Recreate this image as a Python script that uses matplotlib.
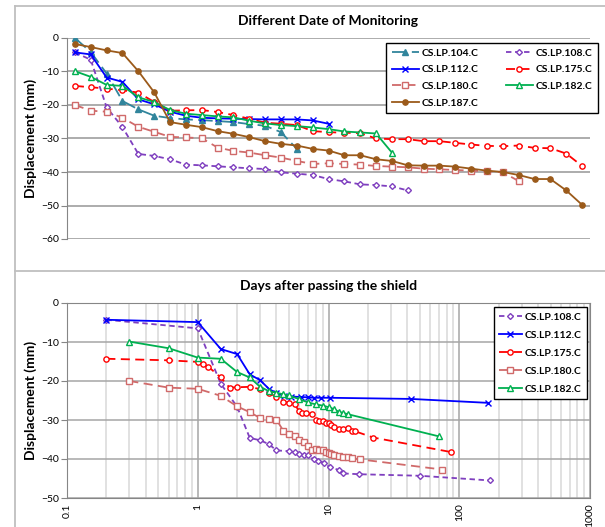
import matplotlib
matplotlib.use('Agg')
import matplotlib.pyplot as plt
from matplotlib.lines import Line2D
from matplotlib.ticker import LogLocator, FixedLocator, NullFormatter

plt.rcParams['font.family'] = ['Lato', 'DejaVu Sans']

# displacement readings (mm), one per monitoring date
d104 = [0.0, -4.2, -10.6, -18.8, -21.3, -23.2, -23.9, -24.3, -24.5, -24.8, -25.1, -25.7, -26.2, -28.1, -33.1]
d108 = [-4.3, -6.5, -20.7, -26.6, -34.6, -35.2, -36.2, -37.8, -38.0, -38.3, -38.6, -38.9, -39.1, -40.1,
        -40.5, -40.9, -42.1, -42.8, -43.7, -43.9, -44.3, -45.5]
d112 = [-4.3, -4.9, -11.8, -13.1, -18.3, -19.8, -22.0, -23.2, -23.8, -24.0, -24.1, -24.2, -24.3, -24.3,
        -24.3, -24.6, -25.6]
d175 = [-14.3, -14.7, -15.1, -15.6, -16.3, -19.1, -21.7, -21.6, -21.5, -22.1, -23.0, -24.1, -25.3, -25.6,
        -26.0, -27.8, -28.1, -28.3, -28.4, -30.0, -30.2, -30.2, -30.8, -30.8, -31.3, -31.8, -32.2, -32.3,
        -32.1, -32.8, -32.9, -34.5, -38.2]
d180 = [-20.0, -21.7, -22.0, -23.8, -26.5, -28.0, -29.5, -29.7, -29.9, -32.7, -33.7, -34.2, -35.0, -35.7,
        -36.7, -37.6, -37.4, -37.6, -37.8, -38.2, -38.4, -38.6, -39.0, -39.2, -39.4, -39.6, -39.8, -40.1, -42.7]
d182 = [-9.9, -11.6, -14.0, -14.3, -17.7, -19.1, -21.5, -22.6, -23.0, -23.4, -23.7, -24.7, -25.5, -26.0,
        -26.3, -26.7, -27.2, -27.9, -28.2, -28.5, -34.2]
d187 = [-1.8, -2.7, -3.7, -4.5, -9.9, -16.2, -25.1, -25.9, -26.6, -27.8, -28.6, -29.6, -30.8, -31.6,
        -32.1, -33.1, -33.6, -35.0, -35.0, -36.2, -36.7, -38.0, -38.1, -38.1, -38.4, -39.0, -39.6, -40.0,
        -40.9, -42.1, -42.1, -45.5, -49.8]

# days after the shield passed each point
t108 = [0.2, 1.0, 1.5, 2.0, 2.5, 3.0, 3.5, 4.0, 5.0, 5.5, 6.0, 6.5, 7.0, 7.7, 8.3, 9.2, 10.2, 12, 13, 17, 50, 172]
t112 = [0.2, 1.0, 1.5, 2.0, 2.5, 3.0, 3.5, 4.0, 4.6, 5.2, 6.2, 7.0, 7.8, 8.7, 10.2, 43, 165]
t175 = [0.2, 0.6, 1.0, 1.1, 1.2, 1.5, 1.75, 2.0, 2.5, 3.0, 3.5, 4.0, 4.5, 5.0, 5.5, 6.0, 6.3, 6.7, 7.5,
        8.0, 8.5, 9.0, 9.5, 10.0, 10.5, 11.0, 12.0, 13.0, 14.0, 15.0, 16.0, 22, 86]
t180 = [0.3, 0.6, 1.0, 1.5, 2.0, 2.5, 3.0, 3.5, 4.0, 4.5, 5.0, 5.5, 6.0, 6.5, 7.0, 7.5, 8.0, 8.5, 9.0,
        9.5, 10.0, 10.5, 11.0, 12.0, 13.0, 14.0, 15.0, 17.5, 74]
t182 = [0.3, 0.6, 1.0, 1.5, 2.0, 2.5, 3.0, 3.5, 4.0, 4.5, 5.0, 6.0, 7.0, 8.0, 9.0, 10.0, 11.0, 12.0,
        13.0, 14.0, 70]

n_dates = 33

styles = {
    '104': dict(color='#31859C', marker='^', mfc='#31859C', dashes=(8, 3)),
    '108': dict(color='#7F3FBF', marker='D', mfc='white', dashes=(3, 2), ms=3.0),
    '112': dict(color='#0000FF', marker='x', mfc='none', dashes=None),
    '175': dict(color='#FF0000', marker='o', mfc='white', dashes=(5, 3)),
    '180': dict(color='#D06A6A', marker='s', mfc='white', dashes=(5, 3)),
    '182': dict(color='#00B050', marker='^', mfc='white', dashes=None),
    '187': dict(color='#9B5A1A', marker='o', mfc='#9B5A1A', dashes=None),
}


def draw(ax, x, y, key):
    st = styles[key]
    kw = dict(color=st['color'], marker=st['marker'], mfc=st['mfc'], mec=st['color'],
              ms=st.get('ms', 3.8), mew=1.0, lw=1.3, label='CS.LP.%s.C' % key)
    if st['dashes']:
        kw['dashes'] = st['dashes']
    return ax.plot(x, y, **kw)[0]


fig = plt.figure(figsize=(6.05, 5.27), dpi=100)

# chart area borders
W, H = 605.0, 527.0
for xs, ys in [([15, 15], [0, H - 6]), ([15, W], [H - 6, H - 6]), ([15, W], [H - 271, H - 271])]:
    fig.add_artist(Line2D([v / W for v in xs], [v / H for v in ys], color='#BFBFBF', lw=1.3))

# --- top: by monitoring date
ax1 = fig.add_axes([67 / W, 1 - 239 / H, 523 / W, 201 / H])
h = {}
h['104'] = draw(ax1, list(range(len(d104))), d104, '104')
h['108'] = draw(ax1, list(range(len(d108))), d108, '108')
h['112'] = draw(ax1, list(range(len(d112))), d112, '112')
h['175'] = draw(ax1, list(range(len(d175))), d175, '175')
h['180'] = draw(ax1, list(range(len(d180))), d180, '180')
h['182'] = draw(ax1, list(range(len(d182))), d182, '182')
h['187'] = draw(ax1, list(range(len(d187))), d187, '187')
ax1.set_xlim(-0.5, n_dates - 0.5)
ax1.set_ylim(-60, 0)
ax1.set_yticks(range(-60, 1, 10))
ax1.set_xticks([])
ax1.grid(axis='y', color='#A6A6A6', lw=1.3)
ax1.set_axisbelow(True)
for s in ['top', 'right', 'bottom']:
    ax1.spines[s].set_visible(False)
ax1.spines['left'].set_color('#868686')
ax1.tick_params(axis='y', length=4, color='#868686', labelsize=7.5, pad=2)
ax1.set_ylabel('Displacement (mm)', fontsize=10, fontweight='bold', labelpad=3)
ax1.set_title('Different Date of Monitoring', fontsize=10, fontweight='bold', pad=9)
order = ['104', '112', '180', '187', '108', '175', '182']
leg1 = ax1.legend([h[k] for k in order], [h[k].get_label() for k in order], ncol=2,
                  loc='upper right', bbox_to_anchor=(598 / W, 1 - 43 / H),
                  bbox_transform=fig.transFigure, fancybox=False,
                  edgecolor='black', framealpha=1, prop=dict(size=7.5, weight='bold'),
                  handlelength=2.6, handletextpad=0.3, labelspacing=0.72, borderpad=0.5,
                  columnspacing=2.6, borderaxespad=0)
leg1.get_frame().set_linewidth(1.0)

# --- bottom: by days after the shield
ax2 = fig.add_axes([67 / W, 1 - 498 / H, 523 / W, 195 / H])
g = {}
g['108'] = draw(ax2, t108, d108, '108')
g['112'] = draw(ax2, t112, d112, '112')
g['175'] = draw(ax2, t175, d175, '175')
g['180'] = draw(ax2, t180, d180, '180')
g['182'] = draw(ax2, t182, d182, '182')
ax2.set_xscale('log')
ax2.set_xlim(0.1, 1000)
ax2.set_ylim(-50, 0)
ax2.set_yticks(range(-50, 1, 10))
ax2.xaxis.set_major_locator(FixedLocator([0.1, 1, 10, 100, 1000]))
ax2.set_xticklabels(['0.1', '1', '10', '100', '1000'], rotation=90)
ax2.xaxis.set_minor_locator(LogLocator(base=10, subs=range(2, 10)))
ax2.xaxis.set_minor_formatter(NullFormatter())
ax2.grid(which='major', color='#A6A6A6', lw=1.1)
ax2.grid(which='minor', axis='x', color='#D9D9D9', lw=1.1)
ax2.set_axisbelow(True)
for s in ax2.spines.values():
    s.set_color('#868686')
ax2.tick_params(which='both', length=0, labelsize=7.5, pad=4)
ax2.tick_params(axis='y', length=4, color='#868686', pad=2)
ax2.set_ylabel('Displacement (mm)', fontsize=10, fontweight='bold', labelpad=3)
ax2.set_title('Days after passing the shield', fontsize=10, fontweight='bold', pad=9)
leg2 = ax2.legend(loc='upper right', bbox_to_anchor=(587 / W, 1 - 307 / H),
                  bbox_transform=fig.transFigure, fancybox=False,
                  edgecolor='black', framealpha=1, prop=dict(size=7.5, weight='bold'),
                  handlelength=2.2, labelspacing=0.85, borderpad=0.5, handletextpad=0.3,
                  borderaxespad=0)
leg2.get_frame().set_linewidth(1.0)

fig.savefig('out.png', dpi=100)
